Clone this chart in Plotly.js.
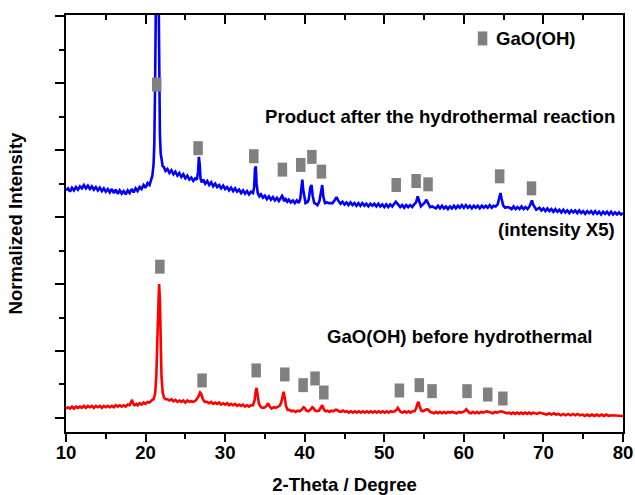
<!DOCTYPE html>
<html>
<head>
<meta charset="utf-8">
<script src="https://cdn.plot.ly/plotly-3.0.1.min.js"></script>
<style>html,body{margin:0;padding:0;background:#fff;}#chart{width:635px;height:495px;}</style>
</head>
<body>
<div id="chart"></div>
<script>
// Blue: product after hydrothermal reaction (intensity x5, offset)
const blueX = [10.0,10.25,10.5,10.75,11.0,11.25,11.5,11.75,12.0,12.25,12.5,12.75,13.0,13.25,13.5,13.75,14.0,14.25,14.5,14.75,15.0,15.25,15.5,15.75,16.0,16.25,16.5,16.75,17.0,17.25,17.5,17.75,18.0,18.25,18.5,18.75,19.0,19.25,19.5,19.75,20.0,20.25,20.5,20.7,20.85,21.0,21.1,21.2,21.3,21.4,21.5,21.6,21.7,21.8,21.9,22.0,22.15,22.3,22.5,22.75,23.0,23.25,23.5,23.75,24.0,24.25,24.5,24.75,25.0,25.25,25.5,25.75,26.0,26.25,26.45,26.6,26.7,26.8,26.9,27.05,27.25,27.5,27.75,28.0,28.25,28.5,28.75,29.0,29.25,29.5,29.75,30.0,30.25,30.5,30.75,31.0,31.25,31.5,31.75,32.0,32.25,32.5,32.75,33.0,33.25,33.5,33.65,33.75,33.85,33.95,34.1,34.3,34.5,34.75,35.0,35.25,35.5,35.75,36.0,36.25,36.5,36.75,37.0,37.15,37.25,37.4,37.6,37.8,38.0,38.25,38.5,38.75,39.0,39.25,39.45,39.6,39.7,39.8,39.95,40.1,40.3,40.5,40.7,40.85,41.0,41.2,41.4,41.6,41.85,42.05,42.2,42.35,42.55,42.8,43.0,43.25,43.5,43.8,44.0,44.2,44.5,44.75,45.0,45.25,45.5,45.75,46.0,46.25,46.5,46.75,47.0,47.25,47.5,47.75,48.0,48.25,48.5,48.75,49.0,49.25,49.5,49.75,50.0,50.25,50.5,50.75,51.0,51.25,51.45,51.6,51.8,52.0,52.25,52.5,52.75,53.0,53.25,53.5,53.75,54.0,54.2,54.4,54.6,54.85,55.1,55.3,55.5,55.75,56.0,56.25,56.5,56.75,57.0,57.25,57.5,57.75,58.0,58.25,58.5,58.75,59.0,59.25,59.5,59.75,60.0,60.25,60.5,60.75,61.0,61.25,61.5,61.75,62.0,62.25,62.5,62.75,63.0,63.25,63.5,63.75,64.0,64.25,64.45,64.6,64.75,64.95,65.2,65.5,65.75,66.0,66.25,66.5,66.75,67.0,67.25,67.5,67.75,68.0,68.25,68.45,68.55,68.7,68.9,69.1,69.5,69.75,70.0,70.25,70.5,70.75,71.0,71.25,71.5,71.75,72.0,72.25,72.5,72.75,73.0,73.25,73.5,73.75,74.0,74.25,74.5,74.75,75.0,75.25,75.5,75.75,76.0,76.25,76.5,76.75,77.0,77.25,77.5,77.75,78.0,78.25,78.5,78.75,79.0,79.25,79.5,79.75,80.0];
const blueY = [3.40,3.43,3.38,3.44,3.40,3.45,3.41,3.46,3.43,3.48,3.43,3.47,3.42,3.46,3.41,3.45,3.40,3.44,3.39,3.43,3.38,3.42,3.37,3.42,3.36,3.41,3.35,3.40,3.35,3.39,3.34,3.40,3.36,3.42,3.37,3.43,3.39,3.45,3.42,3.48,3.44,3.51,3.48,3.56,3.62,3.78,4.10,5.00,6.80,8.80,8.90,6.90,5.10,4.25,3.95,3.85,3.76,3.75,3.69,3.72,3.66,3.70,3.64,3.68,3.62,3.66,3.60,3.64,3.58,3.62,3.56,3.59,3.54,3.58,3.56,3.68,3.90,3.80,3.58,3.52,3.56,3.50,3.54,3.48,3.52,3.46,3.50,3.45,3.48,3.43,3.47,3.42,3.45,3.40,3.44,3.39,3.43,3.38,3.41,3.36,3.40,3.35,3.39,3.34,3.38,3.36,3.45,3.72,3.76,3.50,3.36,3.31,3.34,3.29,3.32,3.27,3.31,3.26,3.30,3.25,3.29,3.24,3.28,3.32,3.30,3.24,3.27,3.23,3.26,3.22,3.25,3.21,3.25,3.21,3.28,3.50,3.56,3.42,3.27,3.21,3.22,3.26,3.44,3.48,3.32,3.21,3.20,3.18,3.24,3.42,3.48,3.30,3.21,3.22,3.21,3.21,3.21,3.26,3.30,3.25,3.20,3.23,3.19,3.22,3.18,3.22,3.18,3.21,3.17,3.21,3.17,3.21,3.17,3.20,3.16,3.20,3.17,3.20,3.16,3.20,3.16,3.19,3.15,3.19,3.15,3.19,3.16,3.20,3.23,3.21,3.17,3.15,3.18,3.14,3.18,3.15,3.18,3.15,3.19,3.22,3.31,3.22,3.16,3.19,3.22,3.26,3.20,3.15,3.16,3.15,3.13,3.17,3.13,3.17,3.13,3.16,3.12,3.16,3.13,3.17,3.13,3.17,3.14,3.18,3.14,3.18,3.14,3.17,3.13,3.17,3.14,3.17,3.13,3.17,3.14,3.17,3.14,3.18,3.14,3.17,3.16,3.19,3.30,3.36,3.27,3.17,3.14,3.15,3.14,3.12,3.16,3.12,3.15,3.12,3.16,3.12,3.15,3.12,3.16,3.22,3.25,3.19,3.14,3.11,3.14,3.10,3.13,3.09,3.13,3.09,3.12,3.08,3.12,3.08,3.11,3.07,3.11,3.07,3.10,3.06,3.10,3.07,3.10,3.06,3.10,3.06,3.09,3.05,3.09,3.06,3.09,3.05,3.09,3.05,3.08,3.04,3.08,3.05,3.08,3.04,3.08,3.04,3.07,3.04,3.07,3.04,3.06];

// Red: GaO(OH) before hydrothermal
const redX = [10.0,10.25,10.5,10.75,11.0,11.25,11.5,11.75,12.0,12.25,12.5,12.75,13.0,13.25,13.5,13.75,14.0,14.25,14.5,14.75,15.0,15.25,15.5,15.75,16.0,16.25,16.5,16.75,17.0,17.25,17.5,17.75,18.0,18.15,18.3,18.45,18.6,18.85,19.0,19.25,19.5,19.75,20.0,20.25,20.5,20.75,21.0,21.2,21.35,21.5,21.6,21.7,21.8,21.9,22.0,22.15,22.3,22.5,22.75,23.0,23.25,23.5,23.75,24.0,24.25,24.5,24.75,25.0,25.25,25.5,25.75,26.0,26.3,26.6,26.85,27.0,27.2,27.45,27.7,28.0,28.25,28.5,28.75,29.0,29.25,29.5,29.75,30.0,30.25,30.5,30.75,31.0,31.25,31.5,31.75,32.0,32.25,32.5,32.75,33.0,33.25,33.5,33.7,33.85,33.95,34.1,34.25,34.5,34.75,35.0,35.2,35.4,35.6,35.85,36.1,36.35,36.6,36.85,37.05,37.25,37.35,37.5,37.65,37.85,38.1,38.35,38.6,38.85,39.1,39.35,39.6,39.85,40.0,40.2,40.45,40.7,40.95,41.1,41.3,41.55,41.8,42.05,42.2,42.4,42.6,42.85,43.1,43.35,43.6,43.85,44.05,44.3,44.55,44.8,45.05,45.3,45.55,45.8,46.05,46.3,46.55,46.8,47.05,47.3,47.55,47.8,48.05,48.3,48.55,48.8,49.05,49.3,49.55,49.8,50.05,50.3,50.55,50.8,51.05,51.3,51.55,51.7,51.85,52.05,52.3,52.55,52.8,53.05,53.3,53.55,53.8,54.0,54.15,54.3,54.45,54.65,54.85,55.1,55.35,55.55,55.75,56.0,56.25,56.5,56.75,57.0,57.25,57.5,57.75,58.0,58.25,58.55,58.85,59.1,59.35,59.6,59.85,60.1,60.3,60.45,60.65,60.9,61.15,61.4,61.65,61.9,62.15,62.4,62.65,62.9,63.15,63.4,63.65,63.9,64.15,64.4,64.7,64.95,65.2,65.45,65.7,65.95,66.2,66.45,66.7,66.95,67.2,67.45,67.7,67.95,68.2,68.45,68.7,68.95,69.2,69.5,69.8,70.1,70.4,70.7,71.0,71.3,71.6,71.9,72.2,72.5,72.8,73.1,73.4,73.7,74.0,74.3,74.6,74.9,75.2,75.5,75.8,76.1,76.4,76.7,77.0,77.3,77.6,77.9,78.2,78.5,78.8,79.1,79.4,79.7,80.0];
const redY = [0.14,0.16,0.14,0.17,0.14,0.17,0.15,0.17,0.15,0.18,0.15,0.18,0.16,0.18,0.15,0.18,0.16,0.18,0.15,0.18,0.16,0.18,0.16,0.18,0.16,0.19,0.17,0.19,0.17,0.19,0.17,0.20,0.19,0.22,0.27,0.21,0.19,0.21,0.19,0.22,0.20,0.23,0.21,0.24,0.23,0.26,0.28,0.36,0.62,1.25,1.80,2.00,1.78,1.15,0.62,0.38,0.31,0.28,0.28,0.26,0.28,0.25,0.27,0.24,0.26,0.24,0.26,0.23,0.26,0.24,0.25,0.24,0.26,0.31,0.38,0.36,0.28,0.24,0.24,0.22,0.24,0.21,0.23,0.21,0.23,0.20,0.22,0.20,0.22,0.19,0.21,0.19,0.21,0.18,0.20,0.18,0.20,0.17,0.19,0.17,0.19,0.19,0.26,0.40,0.45,0.33,0.21,0.16,0.15,0.16,0.18,0.22,0.17,0.14,0.16,0.15,0.17,0.18,0.23,0.34,0.39,0.30,0.18,0.12,0.12,0.10,0.11,0.09,0.11,0.10,0.12,0.16,0.15,0.11,0.10,0.12,0.16,0.15,0.11,0.10,0.11,0.16,0.19,0.13,0.10,0.11,0.09,0.11,0.10,0.12,0.12,0.10,0.09,0.11,0.09,0.10,0.08,0.10,0.08,0.10,0.08,0.10,0.08,0.10,0.08,0.10,0.08,0.10,0.08,0.10,0.08,0.10,0.08,0.10,0.08,0.10,0.08,0.10,0.09,0.10,0.12,0.15,0.12,0.09,0.08,0.10,0.08,0.10,0.08,0.10,0.10,0.14,0.21,0.24,0.17,0.11,0.10,0.11,0.13,0.12,0.09,0.08,0.07,0.09,0.07,0.09,0.07,0.09,0.07,0.09,0.08,0.09,0.08,0.07,0.09,0.08,0.09,0.10,0.13,0.11,0.08,0.07,0.09,0.07,0.09,0.07,0.09,0.08,0.09,0.10,0.09,0.08,0.07,0.09,0.08,0.09,0.10,0.09,0.08,0.07,0.08,0.06,0.08,0.06,0.08,0.06,0.08,0.06,0.08,0.06,0.08,0.06,0.08,0.07,0.06,0.08,0.07,0.06,0.05,0.07,0.05,0.07,0.05,0.06,0.04,0.06,0.04,0.06,0.04,0.06,0.04,0.06,0.04,0.05,0.03,0.05,0.03,0.05,0.03,0.05,0.03,0.05,0.03,0.05,0.03,0.04,0.04,0.03,0.04,0.04,0.03];

// GaO(OH) reference peak markers
const blueMarkX = [21.4, 26.6, 33.6, 37.2, 39.5, 40.9, 42.1, 51.5, 54.0, 55.5, 64.5, 68.5];
const blueMarkY = [4.98, 4.03, 3.91, 3.71, 3.78, 3.90, 3.68, 3.48, 3.54, 3.49, 3.61, 3.43];
const redMarkX = [21.8, 27.1, 33.9, 37.5, 39.8, 41.3, 42.4, 51.9, 54.4, 56.0, 60.4, 63.0, 64.9];
const redMarkY = [2.26, 0.56, 0.71, 0.65, 0.49, 0.59, 0.38, 0.41, 0.49, 0.40, 0.40, 0.35, 0.29];
const legendMarkX = [62.35];
const legendMarkY = [5.67];

const xTickVals = [10, 20, 30, 40, 50, 60, 70, 80];
const xTickText = ['10', '20', '30', '40', '50', '60', '70', '80'];

const FONT = 'Liberation Sans, Arial, Helvetica, sans-serif';
const FS = 18.6;
const markStyle = {symbol: 'line-ns', size: 10, color: '#808080', line: {color: '#808080', width: 9.5}};

const traces = [
  {x: redX, y: redY, type: 'scatter', mode: 'lines', line: {color: '#ff0000', width: 2.6}, hoverinfo: 'skip', showlegend: false},
  {x: blueX, y: blueY, type: 'scatter', mode: 'lines', line: {color: '#0000ff', width: 2.6}, hoverinfo: 'skip', showlegend: false},
  {x: blueMarkX, y: blueMarkY, type: 'scatter', mode: 'markers', marker: markStyle, hoverinfo: 'skip', showlegend: false},
  {x: redMarkX, y: redMarkY, type: 'scatter', mode: 'markers', marker: markStyle, hoverinfo: 'skip', showlegend: false},
  {x: legendMarkX, y: legendMarkY, xaxis: 'x2', type: 'scatter', mode: 'markers', marker: markStyle, hoverinfo: 'skip', showlegend: false}
];

const layout = {
  width: 635, height: 495,
  margin: {l: 66, r: 12, t: 15, b: 63},
  paper_bgcolor: '#ffffff', plot_bgcolor: '#ffffff',
  font: {family: FONT, size: FS, color: '#000000'},
  showlegend: false,
  xaxis: {
    range: [10, 80], tickmode: 'array', tickvals: xTickVals, ticktext: xTickText,
    ticks: 'outside', ticklen: 8, tickwidth: 2, tickcolor: '#000',
    minor: {dtick: 5, ticks: 'outside', ticklen: 5, tickwidth: 2, tickcolor: '#000'},
    showline: true, linewidth: 2, linecolor: '#000', mirror: false,
    showgrid: false, zeroline: false,
    ticklabelstandoff: -5,
    tickfont: {family: FONT, size: FS, weight: 'bold', color: '#000'},
    title: {text: '2-Theta / Degree', font: {family: FONT, size: FS, weight: 'bold', color: '#000'}, standoff: 20}
  },
  xaxis2: {
    range: [10, 80], overlaying: 'x', side: 'top', anchor: 'y',
    tickmode: 'array', tickvals: xTickVals, showticklabels: false,
    ticks: 'inside', ticklen: 9, tickwidth: 2, tickcolor: '#000',
    minor: {dtick: 5, ticks: 'inside', ticklen: 5, tickwidth: 2, tickcolor: '#000'},
    showline: true, linewidth: 2, linecolor: '#000',
    showgrid: false, zeroline: false
  },
  yaxis: {
    range: [-0.21, 6.02], dtick: 1, tick0: 0, showticklabels: false,
    ticks: 'outside', ticklen: 9, tickwidth: 2, tickcolor: '#000',
    minor: {dtick: 0.5, ticks: 'outside', ticklen: 5, tickwidth: 2, tickcolor: '#000'},
    showline: true, linewidth: 2, linecolor: '#000', mirror: true,
    showgrid: false, zeroline: false,
    title: {text: 'Normalized Intensity', font: {family: FONT, size: FS, weight: 'bold', color: '#000'}, standoff: 27}
  },
  annotations: [
    {x: 79.3, y: 4.50, xref: 'x', yref: 'y', xanchor: 'right', yanchor: 'middle', showarrow: false,
     text: 'Product after the hydrothermal reaction', font: {family: FONT, size: FS, weight: 'bold', color: '#000'}},
    {x: 79.3, y: 2.81, xref: 'x', yref: 'y', xanchor: 'right', yanchor: 'middle', showarrow: false,
     text: '(intensity X5)', font: {family: FONT, size: FS, weight: 'bold', color: '#000'}},
    {x: 42.5, y: 1.21, xref: 'x', yref: 'y', xanchor: 'left', yanchor: 'middle', showarrow: false,
     text: 'GaO(OH) before hydrothermal', font: {family: FONT, size: FS, weight: 'bold', color: '#000'}},
    {x: 63.8, y: 5.67, xref: 'x', yref: 'y', xanchor: 'left', yanchor: 'middle', showarrow: false,
     text: 'GaO(OH)', font: {family: FONT, size: FS, weight: 'bold', color: '#000'}}
  ]
};

Plotly.newPlot('chart', traces, layout, {displayModeBar: false, staticPlot: true});
</script>
</body>
</html>
